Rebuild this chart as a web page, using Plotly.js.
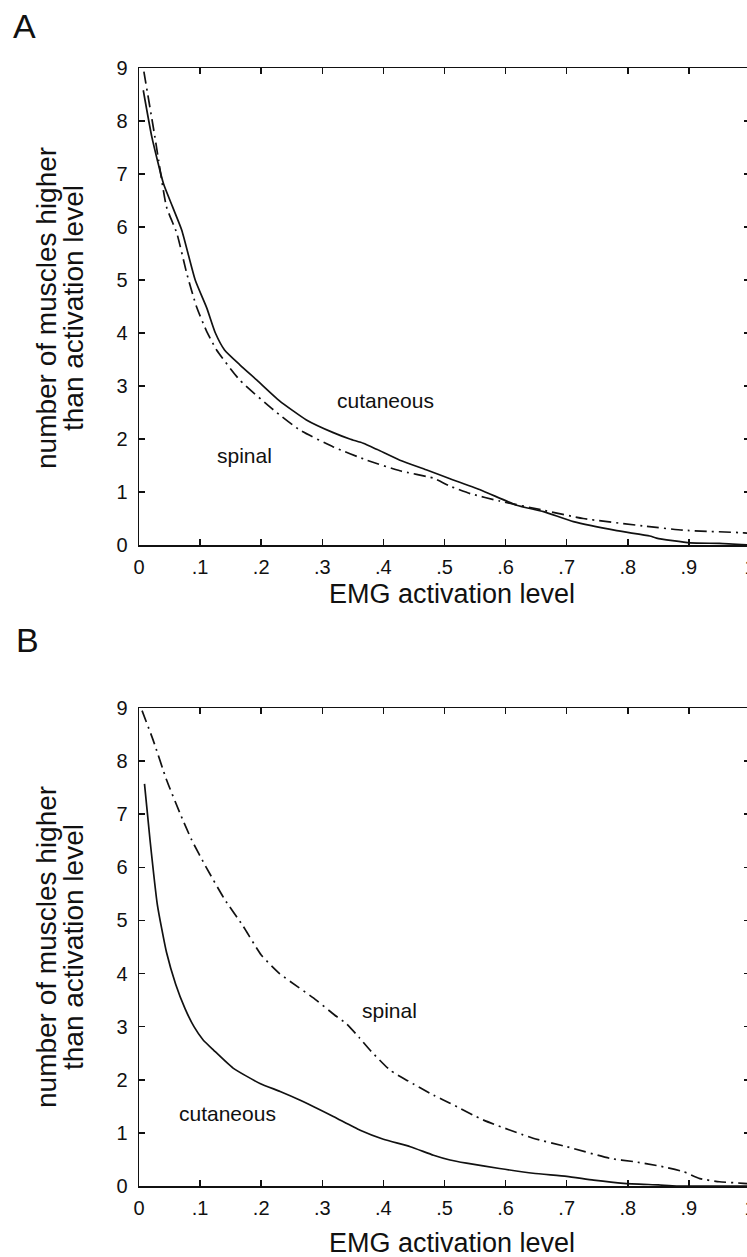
<!DOCTYPE html>
<html>
<head>
<meta charset="utf-8">
<script src="https://cdn.plot.ly/plotly-3.0.1.min.js"></script>
<style>
html,body{margin:0;padding:0;overflow:hidden;background:#fff;}
#chart{width:760px;height:1257px;}
</style>
</head>
<body>
<div id="chart"></div>
<script>
// ---- data ----
const xTickVals = [0, 0.1, 0.2, 0.3, 0.4, 0.5, 0.6, 0.7, 0.8, 0.9, 1];
const xTickText = ['0', '.1', '.2', '.3', '.4', '.5', '.6', '.7', '.8', '.9', '1'];
const yTickVals = [0, 1, 2, 3, 4, 5, 6, 7, 8, 9];
const yTickText = ['0', '1', '2', '3', '4', '5', '6', '7', '8', '9'];

// Panel A
const aCutX = [0.007, 0.021, 0.04, 0.055, 0.07, 0.092, 0.111, 0.125, 0.14, 0.165, 0.193, 0.23, 0.274, 0.318, 0.345, 0.367, 0.39, 0.427, 0.47, 0.509, 0.563, 0.618, 0.662, 0.711, 0.782, 0.836, 0.847, 0.902, 0.95, 1.0];
const aCutY = [8.58, 7.70, 6.82, 6.38, 5.94, 5.0, 4.47, 4.0, 3.68, 3.4, 3.11, 2.72, 2.36, 2.12, 2.0, 1.92, 1.8, 1.6, 1.42, 1.25, 1.02, 0.75, 0.63, 0.44, 0.27, 0.17, 0.13, 0.04, 0.03, 0.0];
const aSpiX = [0.008, 0.026, 0.032, 0.045, 0.062, 0.078, 0.094, 0.11, 0.127, 0.165, 0.22, 0.263, 0.318, 0.373, 0.427, 0.482, 0.509, 0.542, 0.59, 0.66, 0.727, 0.825, 0.89, 0.99, 1.0];
const aSpiY = [8.93, 7.7, 7.26, 6.38, 5.88, 5.13, 4.5, 4.05, 3.68, 3.11, 2.55, 2.17, 1.85, 1.6, 1.4, 1.26, 1.11, 0.97, 0.83, 0.66, 0.5, 0.36, 0.28, 0.23, 0.22];

// Panel B
const bCutX = [0.009, 0.018, 0.03, 0.045, 0.06, 0.075, 0.09, 0.105, 0.122, 0.154, 0.198, 0.231, 0.263, 0.318, 0.362, 0.4, 0.444, 0.482, 0.509, 0.536, 0.59, 0.645, 0.7, 0.744, 0.793, 0.85, 0.88, 1.0];
const bCutY = [7.57, 6.52, 5.3, 4.4, 3.8, 3.35, 3.0, 2.75, 2.56, 2.22, 1.93, 1.78, 1.62, 1.31, 1.05, 0.88, 0.74, 0.58, 0.49, 0.43, 0.33, 0.24, 0.18, 0.11, 0.05, 0.02, 0.0, 0.0];
const bSpiX = [0.005, 0.023, 0.045, 0.067, 0.086, 0.11, 0.14, 0.17, 0.2, 0.23, 0.26, 0.29, 0.32, 0.34, 0.36, 0.378, 0.411, 0.44, 0.482, 0.509, 0.564, 0.645, 0.7, 0.771, 0.809, 0.85, 0.891, 0.918, 0.95, 0.989, 1.0];
const bSpiY = [8.95, 8.4, 7.65, 7.02, 6.52, 6.0, 5.4, 4.9, 4.35, 4.0, 3.75, 3.5, 3.22, 3.05, 2.8, 2.56, 2.18, 1.98, 1.71, 1.56, 1.24, 0.9, 0.74, 0.52, 0.46, 0.38, 0.27, 0.14, 0.08, 0.05, 0.04];

const xTitle = 'EMG activation level';
const yTitle1 = 'number of muscles higher';
const yTitle2 = 'than activation level';

// ---- rendering ----
const FONT = 'Arial, "Liberation Sans", Helvetica, sans-serif';
const H = 1257;
const solid = {color: '#111', width: 1.7, dash: 'solid', shape: 'spline', smoothing: 0.5};
const dashdot = {color: '#111', width: 1.7, dash: '12px,5px,2px,5px', shape: 'spline', smoothing: 0.5};

const traces = [
  {x: aCutX, y: aCutY, xaxis: 'x', yaxis: 'y', mode: 'lines', line: solid, name: 'cutaneous'},
  {x: aSpiX, y: aSpiY, xaxis: 'x', yaxis: 'y', mode: 'lines', line: dashdot, name: 'spinal'},
  {x: bCutX, y: bCutY, xaxis: 'x2', yaxis: 'y2', mode: 'lines', line: solid, name: 'cutaneous'},
  {x: bSpiX, y: bSpiY, xaxis: 'x2', yaxis: 'y2', mode: 'lines', line: dashdot, name: 'spinal'}
];

function xa(anchor) {
  return {
    anchor: anchor, domain: [0, 1], range: [0, 1], fixedrange: true,
    tickmode: 'array', tickvals: xTickVals, ticktext: xTickText,
    ticks: 'inside', ticklen: 6, tickwidth: 1.5, tickcolor: '#111',
    showline: true, linewidth: 1.5, linecolor: '#111', mirror: 'ticks',
    showgrid: false, zeroline: false, ticklabelstandoff: 3,
    tickfont: {family: FONT, size: 20, color: '#111'}
  };
}
function ya(anchor, dom) {
  return {
    anchor: anchor, domain: dom, range: [0, 9], fixedrange: true,
    tickmode: 'array', tickvals: yTickVals, ticktext: yTickText,
    ticks: 'inside', ticklen: 6, tickwidth: 1.5, tickcolor: '#111',
    showline: true, linewidth: 1.5, linecolor: '#111', mirror: 'ticks',
    showgrid: false, zeroline: false, ticklabelstandoff: 6,
    tickfont: {family: FONT, size: 20, color: '#111'}
  };
}
function py(px) { return (H - px) / H; }
function pxX(px) { return (px - 139) / 611; }

function ann(text, x, y, xref, yref, size, angle) {
  return {text: text, x: x, y: y, xref: xref, yref: yref, showarrow: false,
    xanchor: 'center', yanchor: 'middle', textangle: angle || 0,
    font: {family: FONT, size: size, color: '#111'}};
}

const annotations = [
  ann('A', pxX(24), py(26), 'paper', 'paper', 34),
  ann('B', pxX(27), py(640), 'paper', 'paper', 34),
  ann(xTitle, pxX(452), py(594), 'paper', 'paper', 27),
  ann(xTitle, pxX(452), py(1243), 'paper', 'paper', 27),
  ann(yTitle1, pxX(46), py(308), 'paper', 'paper', 28, -90),
  ann(yTitle2, pxX(73), py(308), 'paper', 'paper', 28, -90),
  ann(yTitle1, pxX(46), py(947), 'paper', 'paper', 28, -90),
  ann(yTitle2, pxX(73), py(947), 'paper', 'paper', 28, -90),
  ann('cutaneous', 0.403, 2.72, 'x', 'y', 21),
  ann('spinal', 0.173, 1.68, 'x', 'y', 21),
  ann('cutaneous', 0.145, 1.37, 'x2', 'y2', 21),
  ann('spinal', 0.41, 3.3, 'x2', 'y2', 21)
];

const layout = {
  width: 760, height: H,
  margin: {l: 139, r: 10, t: 0, b: 0},
  paper_bgcolor: '#fff', plot_bgcolor: '#fff',
  showlegend: false,
  xaxis: xa('y'),
  yaxis: ya('x', [py(545), py(68)]),
  xaxis2: xa('y2'),
  yaxis2: ya('x2', [py(1186), py(708)]),
  annotations: annotations
};

Plotly.newPlot('chart', traces, layout, {staticPlot: true, displayModeBar: false});
</script>
</body>
</html>
